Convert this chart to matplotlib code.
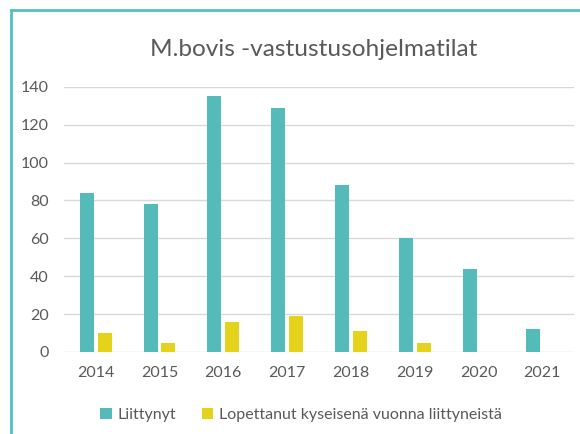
import matplotlib.pyplot as plt
import numpy as np

years = ["2014", "2015", "2016", "2017", "2018", "2019", "2020", "2021"]
liittynyt = [84, 78, 135, 129, 88, 60, 44, 12]
lopettanut = [10, 5, 16, 19, 11, 5, 0, 0]

teal = "#55BBB8"
yellow = "#E5D31B"
grey = "#595959"

plt.rcParams["font.family"] = ["Lato", "DejaVu Sans"]

fig = plt.figure(figsize=(5.8, 4.34), dpi=100)
ax = fig.add_axes([0.110, 0.189, 0.880, 0.611])

x = np.arange(len(years))
w = 0.22
ax.bar(x - 0.14, liittynyt, w, color=teal, label="Liittynyt")
ax.bar(x + 0.14, lopettanut, w, color=yellow, label="Lopettanut kyseisenä vuonna liittyneistä")

ax.set_xlim(-0.5, len(years) - 0.5)
ax.set_ylim(0, 140)
ax.set_yticks(range(0, 141, 20))
ax.set_xticks(x)
ax.set_xticklabels(years)
ax.tick_params(length=0, labelsize=11.5, colors=grey, pad=10)
ax.tick_params(axis="y", pad=11)
ax.grid(axis="y", color="#D9D9D9", linewidth=1)
ax.set_axisbelow(True)
for s in ax.spines.values():
    s.set_visible(False)

fig.text(0.541, 0.887, "M.bovis -vastustusohjelmatilat", ha="center", va="center",
         fontsize=17.6, color=grey)

fig.legend(loc="center", bbox_to_anchor=(0.519, 0.043), ncol=2, frameon=False,
           fontsize=11.5, labelcolor=grey, handlelength=0.7, handleheight=0.7,
           handletextpad=0.35, columnspacing=1.65)

# frame of the chart box
fig.add_artist(plt.Line2D([0.019, 0.019], [0, 0.977], color="#4FC1C0", linewidth=2,
                          transform=fig.transFigure))
fig.add_artist(plt.Line2D([0.019, 1.0], [0.977, 0.977], color="#4FC1C0", linewidth=2,
                          transform=fig.transFigure))

fig.savefig("out.png", dpi=100)
